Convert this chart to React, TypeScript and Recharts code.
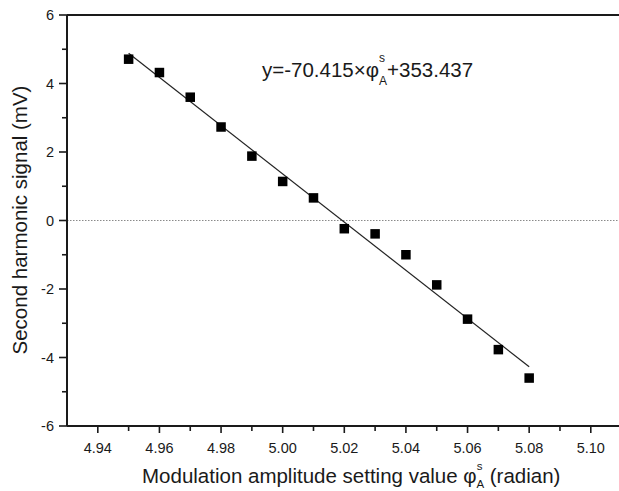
import React from "react";
import {
  ScatterChart,
  Scatter,
  XAxis,
  YAxis,
  ReferenceLine,
} from "recharts";

// Measured points: modulation amplitude setting value vs second harmonic signal (mV)
const xValues = [4.95, 4.96, 4.97, 4.98, 4.99, 5.0, 5.01, 5.02, 5.03, 5.04, 5.05, 5.06, 5.07, 5.08];
const yValues = [4.71, 4.32, 3.6, 2.73, 1.88, 1.14, 0.66, -0.24, -0.39, -1.0, -1.88, -2.88, -3.77, -4.6];

// Linear fit endpoints (y = -70.415x + 353.437) at x = 4.95 and 5.08
const fitX = [4.95, 5.08];
const fitY = [4.883, -4.271];

const xTicks = [4.93, 4.94, 4.95, 4.96, 4.97, 4.98, 4.99, 5.0, 5.01, 5.02, 5.03, 5.04, 5.05, 5.06, 5.07, 5.08, 5.09, 5.1, 5.11];
const xLabelTicks = ["4.94", "4.96", "4.98", "5.00", "5.02", "5.04", "5.06", "5.08", "5.10"];
const yTicks = [-6, -5, -4, -3, -2, -1, 0, 1, 2, 3, 4, 5, 6];
const yLabelTicks = [-6, -4, -2, 0, 2, 4, 6];

const points = xValues.map((x, i) => ({ x, y: yValues[i] }));
const fitLine = fitX.map((x, i) => ({ x, y: fitY[i] }));

const FONT = "'Liberation Sans', Arial, Helvetica, sans-serif";
const INK = "#1a1a1a";

const XTick = (props: any) => {
  const { x, y, payload } = props;
  const label = payload.value.toFixed(2);
  const major = xLabelTicks.includes(label);
  if (payload.value < 4.935 || payload.value > 5.105) return <g />;
  return (
    <g>
      <line x1={x} x2={x} y1={y} y2={y + (major ? 7 : 5)} stroke={INK} strokeWidth={1.6} />
      {major && (
        <text x={x} y={y + 27} textAnchor="middle" fontSize={14.5} fontFamily={FONT} fill={INK}>
          {label}
        </text>
      )}
    </g>
  );
};

const YTick = (props: any) => {
  const { x, y, payload } = props;
  const major = yLabelTicks.includes(payload.value);
  return (
    <g>
      <line x1={x} x2={x - (major ? 8 : 5)} y1={y} y2={y} stroke={INK} strokeWidth={1.6} />
      {major && (
        <text x={x - 13} y={y + 5} textAnchor="end" fontSize={14.5} fontFamily={FONT} fill={INK}>
          {payload.value}
        </text>
      )}
    </g>
  );
};

const SquareDot = (props: any) => {
  const { cx, cy } = props;
  return <rect x={cx - 4.75} y={cy - 4.75} width={9.5} height={9.5} fill="#000" />;
};

const NoDot = () => <g />;

const XTitle = () => (
  <text x={142} y={483} fontSize={20.5} fontFamily={FONT} fill={INK}>
    Modulation amplitude setting value φ
    <tspan fontSize={11.5} dy={-13}>s</tspan>
    <tspan fontSize={11.5} dx={-6} dy={18}>A</tspan>
    <tspan fontSize={20.5} dy={-5}> (radian)</tspan>
  </text>
);

const YTitle = () => (
  <text
    x={0}
    y={0}
    transform="translate(27, 220) rotate(-90)"
    textAnchor="middle"
    fontSize={20.5}
    fontFamily={FONT}
    fill={INK}
  >
    Second harmonic signal (mV)
  </text>
);

const Equation = () => (
  <text x={262} y={77} fontSize={20.5} fontFamily={FONT} fill={INK}>
    y=-70.415×φ
    <tspan fontSize={12} dy={-15}>s</tspan>
    <tspan fontSize={12} dx={-6} dy={23}>A</tspan>
    <tspan fontSize={20.5} dy={-8}>+353.437</tspan>
  </text>
);

export default function App() {
  return (
    <div
      style={{
        position: "absolute",
        left: 0,
        top: 0,
        width: 619,
        height: 491,
        overflow: "hidden",
        background: "#fff",
      }}
    >
      <ScatterChart
        width={640}
        height={491}
        margin={{ top: 15, right: 18.4, bottom: 0, left: 0 }}
      >
        <XAxis
          type="number"
          dataKey="x"
          domain={[4.93, 5.11]}
          ticks={xTicks}
          interval={0}
          tickSize={0}
          tickMargin={0}
          tick={<XTick />}
          axisLine={{ stroke: INK, strokeWidth: 2 }}
          tickLine={false}
          height={65}
          allowDataOverflow
          label={{ content: () => <XTitle /> }}
        />
        <YAxis
          type="number"
          dataKey="y"
          domain={[-6, 6]}
          ticks={yTicks}
          interval={0}
          tickSize={0}
          tickMargin={0}
          tick={<YTick />}
          axisLine={{ stroke: INK, strokeWidth: 2 }}
          tickLine={false}
          width={67}
          allowDataOverflow
          label={{ content: () => <YTitle /> }}
        />
        <ReferenceLine y={0} stroke="#8a8a8a" strokeWidth={1} strokeDasharray="1.5 1.5" />
        <ReferenceLine
          y={6}
          stroke={INK}
          strokeWidth={2}
          label={{ content: () => <Equation /> }}
        />
        <Scatter
          data={fitLine}
          line={{ stroke: "#222", strokeWidth: 1.2 }}
          shape={<NoDot />}
          isAnimationActive={false}
        />
        <Scatter data={points} shape={<SquareDot />} isAnimationActive={false} />
      </ScatterChart>
    </div>
  );
}
